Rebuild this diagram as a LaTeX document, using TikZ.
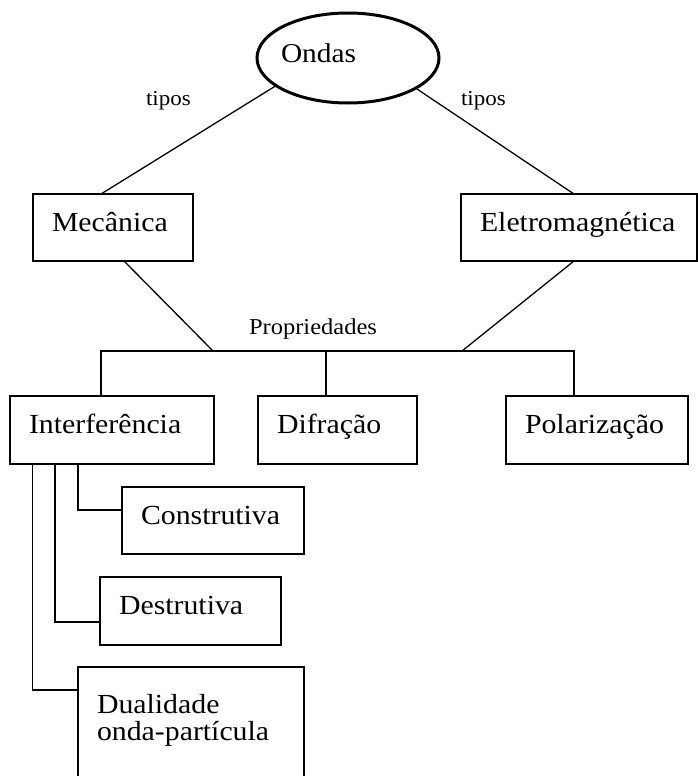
\documentclass[tikz,border=0pt]{standalone}
\usepackage{fontspec}
\setmainfont{Liberation Serif}[FakeStretch=1.08]
\usetikzlibrary{shapes.geometric,calc}

\tikzset{
  every node/.style={inner sep=0pt, outer sep=0pt},
  wire/.style={line width=1.3pt},
  box/.style={draw, line width=1.3pt, anchor=north west, align=left,
    inner xsep=19pt, inner ysep=0pt, text height=21pt, text depth=14pt,
    font=\fontsize{27.6}{27}\selectfont},
  small/.style={anchor=base west, font=\fontsize{21.3}{24}\selectfont},
}

\begin{document}
\begin{tikzpicture}[x=1pt, y=-1pt]
  \useasboundingbox (0,0) rectangle (698,776);
  \clip (0,0) rectangle (698,776);

  % root
  \node[draw, ellipse, line width=3pt, minimum width=182pt, minimum height=90pt] (ondas) at (348,58) {};
  \node[anchor=base west, font=\fontsize{27.2}{27}\selectfont] (ondastxt) at (281,63) {Ondas};

  % wave types
  \node[box, minimum width=160pt, text width=122pt, minimum height=67pt] (mec) at (33,194) {Mecânica};
  \node[box, minimum width=236pt, text width=198pt, minimum height=67pt] (ele) at (461,194) {Eletromagnética};

  % properties
  \node[box, minimum width=204pt, text width=166pt, minimum height=68pt] (inter) at (10,396) {Interferência};
  \node[box, minimum width=159pt, text width=121pt, minimum height=68pt] (dif) at (258,396) {Difração};
  \node[box, minimum width=182pt, text width=144pt, minimum height=68pt] (pol) at (506,396) {Polarização};

  % kinds of interference
  \node[box, minimum width=182pt, text width=144pt, minimum height=67pt] (cons) at (122,487) {Construtiva};
  \node[box, minimum width=181pt, text width=143pt, minimum height=68pt] (des) at (100,577) {Destrutiva};
  \node[box, minimum width=226pt, text width=188pt, text height=46pt, text depth=80pt] (dual) at (78,667) {Dualidade\\onda-partícula};

  % labels
  \node[small] (tiposL) at (146,105) {tipos};
  \node[small] (tiposR) at (461,105) {tipos};
  \node[small, font=\fontsize{22.7}{24}\selectfont] (prop) at (249,334) {Propriedades};

  % connectors from the root
  \draw[wire] (ondas.201.8) -- ([xshift=68pt]mec.north west);
  \draw[wire] (ondas.336.8) -- ([xshift=113pt]ele.north west);

  % property bar
  \coordinate (pm) at (213,351);
  \coordinate (pe) at (462,351);
  \draw[wire] ([xshift=91pt]inter.north west) -- ++(0,-45) -| ([xshift=68pt]pol.north west);
  \draw[wire] ([xshift=68pt]dif.north west) -- ++(0,-45);
  \draw[wire] ([xshift=91pt]mec.south west) -- (pm);
  \draw[wire] ([xshift=113pt]ele.south west) -- (pe);

  % interference branches
  \draw[wire] ([xshift=68pt]inter.south west) |- ([yshift=-23pt]cons.north west);
  \draw[wire] ([xshift=45pt]inter.south west) |- ([yshift=-45pt]des.north west);
  \draw[wire] ([xshift=22.5pt]inter.south west) |- ([yshift=-23pt]dual.north west);
\end{tikzpicture}
\end{document}
